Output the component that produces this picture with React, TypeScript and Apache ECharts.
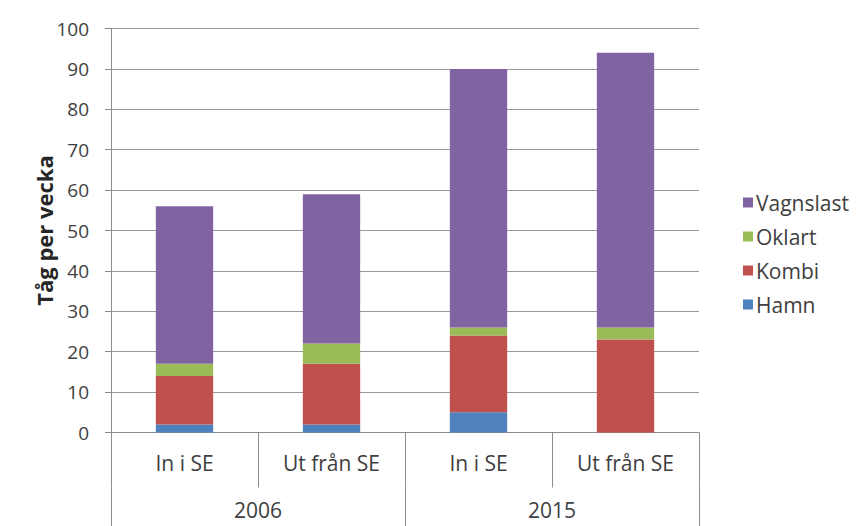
import React, { useEffect, useRef } from "react";
import * as echarts from "echarts";

// Trains per week, by direction and year
const directions = ["In i SE", "Ut från SE", "In i SE", "Ut från SE"];
const years = ["2006", "2015"];
const hamn = [2, 2, 5, 0];
const kombi = [12, 15, 19, 23];
const oklart = [3, 5, 2, 3];
const vagnslast = [39, 37, 64, 68];
const yTicks = { min: 0, max: 100, interval: 10 };

const FONT = "'Open Sans', Lato, sans-serif";
const TEXT = "#404040";
const LINE = "#8c8c8c";

export default function App() {
  const ref = useRef<HTMLDivElement>(null);

  useEffect(() => {
    if (!ref.current) return;
    const chart = echarts.init(ref.current, undefined, { renderer: "svg" });
    const bar = (name: string, data: number[], color: string) => ({
      name,
      type: "bar",
      stack: "total",
      data,
      barWidth: "39%",
      itemStyle: { color },
      emphasis: { disabled: true },
    });
    chart.setOption({
      animation: false,
      backgroundColor: "#ffffff",
      textStyle: { fontFamily: FONT },
      grid: { left: 111, top: 28.5, right: 165, bottom: 93.5 },
      legend: {
        orient: "vertical",
        left: 738,
        top: 187,
        itemWidth: 10,
        itemHeight: 10,
        itemGap: 13,
        icon: "rect",
        data: ["Vagnslast", "Oklart", "Kombi", "Hamn"],
        textStyle: { fontFamily: FONT, fontSize: 21, color: TEXT, padding: [0, 0, 0, -2] },
      },
      xAxis: [
        {
          type: "category",
          data: directions,
          position: "bottom",
          axisLine: { show: true, lineStyle: { color: LINE, width: 1 } },
          axisTick: { show: true, length: 55, interval: 0, lineStyle: { color: LINE } },
          axisLabel: { fontFamily: FONT, fontSize: 21, color: TEXT, margin: 20, interval: 0 },
        },
        {
          type: "category",
          data: years,
          position: "bottom",
          offset: 55,
          axisLine: { show: false },
          axisTick: { show: true, length: 40, interval: 0, lineStyle: { color: LINE } },
          axisLabel: { fontFamily: FONT, fontSize: 21, color: TEXT, margin: 12, interval: 0 },
        },
      ],
      yAxis: {
        type: "value",
        min: yTicks.min,
        max: yTicks.max,
        interval: yTicks.interval,
        name: "Tåg per vecka",
        nameLocation: "middle",
        nameRotate: 90,
        nameGap: 56,
        nameMoveOverlap: false,
        nameTextStyle: { fontFamily: FONT, fontSize: 22, fontWeight: "bold", color: "#262626" },
        axisLine: { show: true, lineStyle: { color: LINE } },
        axisTick: { show: true, length: 6, lineStyle: { color: LINE } },
        axisLabel: { fontFamily: FONT, fontSize: 19, color: TEXT, margin: 22 },
        splitLine: { show: true, lineStyle: { color: "#9a9a9a", width: 1 } },
      },
      series: [
        bar("Hamn", hamn, "#4F81BD"),
        bar("Kombi", kombi, "#C0504D"),
        bar("Oklart", oklart, "#9BBB59"),
        bar("Vagnslast", vagnslast, "#8064A2"),
      ],
    });
    return () => chart.dispose();
  }, []);

  return (
    <div
      ref={ref}
      style={{ position: "fixed", left: 0, top: 0, width: 864, height: 526, background: "#fff" }}
    />
  );
}
